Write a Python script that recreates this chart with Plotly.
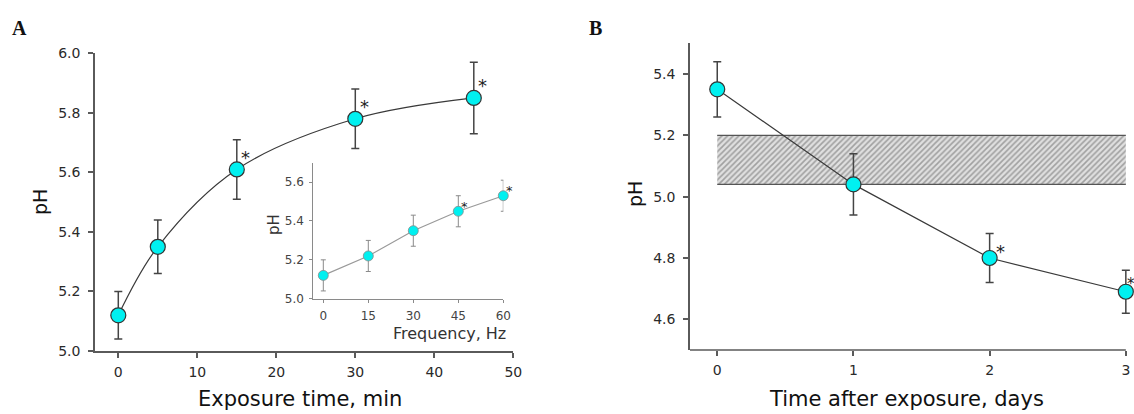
import plotly.graph_objects as go

W, H = 1134, 414

# ---- Data ----
# Panel A: pH vs exposure time
a_time = [0, 5, 15, 30, 45]
a_ph = [5.12, 5.35, 5.61, 5.78, 5.85]
a_err_plus = [0.08, 0.09, 0.10, 0.10, 0.12]
a_err_minus = [0.08, 0.09, 0.10, 0.10, 0.12]
a_sig = [False, False, True, True, True]

# Inset: pH vs frequency
i_freq = [0, 15, 30, 45, 60]
i_ph = [5.12, 5.22, 5.35, 5.45, 5.53]
i_err = [0.08, 0.08, 0.08, 0.08, 0.08]
i_sig = [False, False, False, True, True]

# Panel B: pH vs days after exposure
b_days = [0, 1, 2, 3]
b_ph = [5.35, 5.04, 4.80, 4.69]
b_err = [0.09, 0.10, 0.08, 0.07]
b_sig = [False, False, True, True]

# Normal range band in B
band_x = [0, 3]
band_low = 5.04
band_high = 5.20

# ---- Styling ----
FONT = "DejaVu Sans"
AX = "#5a5a5a"
TXT = "#2a2a2a"
CYAN = "#00f0f0"
LINE = "#3a3a3a"

def px_x(p):
    return p / W

def px_y(p):
    return 1 - p / H

fig = go.Figure()

# Panel A
fig.add_trace(go.Scatter(
    x=a_time, y=a_ph, mode="lines+markers",
    line=dict(color=LINE, width=1.2, shape="spline", smoothing=1.0),
    marker=dict(size=15, color=CYAN, line=dict(color="#333", width=1.2)),
    error_y=dict(type="data", array=a_err_plus, arrayminus=a_err_minus,
                 color="#444", thickness=1.5, width=4),
    xaxis="x", yaxis="y", showlegend=False, cliponaxis=False))

# Inset
fig.add_trace(go.Scatter(
    x=i_freq, y=i_ph, mode="lines+markers",
    line=dict(color="#9a9a9a", width=1.2),
    marker=dict(size=10, color=CYAN, line=dict(color="#8a8a8a", width=0.8)),
    error_y=dict(type="data", array=i_err, color="#8a8a8a", thickness=1, width=2.5),
    xaxis="x3", yaxis="y3", showlegend=False, cliponaxis=False))

# Panel B band (hatched)
fig.add_trace(go.Scatter(
    x=[band_x[0], band_x[1], band_x[1], band_x[0], band_x[0]],
    y=[band_low, band_low, band_high, band_high, band_low],
    mode="lines", fill="toself", line=dict(width=0, color="rgba(0,0,0,0)"),
    fillcolor="rgba(0,0,0,0)",
    fillpattern=dict(shape="/", fgcolor="#606060", bgcolor="#e0e0e0", size=4, solidity=0.4),
    xaxis="x2", yaxis="y2", showlegend=False, hoverinfo="skip"))
for yy in (band_low, band_high):
    fig.add_trace(go.Scatter(
        x=band_x, y=[yy, yy], mode="lines", line=dict(color="#555", width=1.3),
        xaxis="x2", yaxis="y2", showlegend=False, hoverinfo="skip"))

fig.add_trace(go.Scatter(
    x=b_days, y=b_ph, mode="lines+markers",
    line=dict(color=LINE, width=1.2),
    marker=dict(size=15, color=CYAN, line=dict(color="#333", width=1.2)),
    error_y=dict(type="data", array=b_err, color="#444", thickness=1.5, width=4),
    xaxis="x2", yaxis="y2", showlegend=False, cliponaxis=False))

tickfont = dict(family=FONT, size=14, color=TXT)
common = dict(showgrid=False, zeroline=False, showline=True, linecolor=AX, linewidth=1.5,
              ticks="outside", ticklen=5, tickcolor=AX, tickwidth=1.5, tickfont=tickfont,
              automargin=False)

fig.update_layout(
    width=W, height=H, margin=dict(l=0, r=0, t=0, b=0, pad=0, autoexpand=False),
    paper_bgcolor="white", plot_bgcolor="rgba(0,0,0,0)",
    xaxis=dict(domain=[px_x(95), px_x(513.3)], range=[-2.95, 50], tickvals=[0, 10, 20, 30, 40, 50],
               anchor="y", ticklabelstandoff=2, **common),
    yaxis=dict(domain=[px_y(351), px_y(53.3)], range=[5.0, 6.0], tickvals=[5.0, 5.2, 5.4, 5.6, 5.8, 6.0],
               tickformat=".1f", anchor="x", ticklabelstandoff=5, **common),
    xaxis2=dict(domain=[px_x(690), 1.0], range=[-0.2, 3.06], tickvals=[0, 1, 2, 3],
                anchor="y2", ticklabelstandoff=2, **{**common, "showline": False}),
    yaxis2=dict(domain=[px_y(350), px_y(43.3)], range=[4.5, 5.5], tickvals=[4.6, 4.8, 5.0, 5.2, 5.4],
                tickformat=".1f", anchor="x2", ticklabelstandoff=5, **common),
    xaxis3=dict(domain=[px_x(313.3), px_x(503.3)], range=[-10/3, 60], tickvals=[0, 15, 30, 45, 60],
                anchor="y3", showgrid=False, zeroline=False, showline=True, linecolor="#8a8a8a",
                linewidth=1, ticks="outside", ticklen=3, tickcolor="#8a8a8a", automargin=False,
                tickfont=dict(family=FONT, size=12, color="#444"), ticklabelstandoff=3),
    yaxis3=dict(domain=[px_y(298.7), px_y(162.7)], range=[5.0, 5.7], tickvals=[5.0, 5.2, 5.4, 5.6],
                tickformat=".1f", anchor="x3", showgrid=False, zeroline=False, showline=True,
                linecolor="#8a8a8a", linewidth=1, ticks="outside", ticklen=3, tickcolor="#8a8a8a",
                automargin=False,
                tickfont=dict(family=FONT, size=12, color="#444"), ticklabelstandoff=3),
)

# B x-axis line ending at x=3
fig.add_shape(type="line", xref="x2", yref="paper", x0=-0.2, x1=3, y0=px_y(350), y1=px_y(350),
              line=dict(color=AX, width=1.5))

ann = []
# panel letters
ann.append(dict(text="<b>A</b>", x=px_x(10), y=px_y(28), xref="paper", yref="paper",
                xanchor="left", yanchor="middle", showarrow=False,
                font=dict(family="Liberation Serif", size=20, color="#111")))
ann.append(dict(text="<b>B</b>", x=px_x(587), y=px_y(28), xref="paper", yref="paper",
                xanchor="left", yanchor="middle", showarrow=False,
                font=dict(family="Liberation Serif", size=20, color="#111")))
# axis titles
ann.append(dict(text="Exposure time, min", x=px_x(300), y=px_y(399), xref="paper", yref="paper",
                xanchor="center", yanchor="middle", showarrow=False,
                font=dict(family=FONT, size=21, color="#111")))
ann.append(dict(text="pH", x=px_x(40), y=px_y(202), xref="paper", yref="paper", textangle=-90,
                xanchor="center", yanchor="middle", showarrow=False,
                font=dict(family=FONT, size=19, color="#111")))
ann.append(dict(text="Time after exposure, days", x=px_x(906), y=px_y(399), xref="paper", yref="paper",
                xanchor="center", yanchor="middle", showarrow=False,
                font=dict(family=FONT, size=21, color="#111")))
ann.append(dict(text="pH", x=px_x(635), y=px_y(194), xref="paper", yref="paper", textangle=-90,
                xanchor="center", yanchor="middle", showarrow=False,
                font=dict(family=FONT, size=19, color="#111")))
ann.append(dict(text="Frequency, Hz", x=px_x(449), y=px_y(333), xref="paper", yref="paper",
                xanchor="center", yanchor="middle", showarrow=False,
                font=dict(family=FONT, size=16, color="#333")))
ann.append(dict(text="pH", x=px_x(274), y=px_y(225), xref="paper", yref="paper", textangle=-90,
                xanchor="center", yanchor="middle", showarrow=False,
                font=dict(family=FONT, size=15, color="#333")))

# significance asterisks
for xv, yv, s in zip(a_time, a_ph, a_sig):
    if s:
        ann.append(dict(text="*", x=xv, y=yv, xref="x", yref="y", showarrow=False,
                        xshift=9, yshift=12, font=dict(family=FONT, size=18, color="#222")))
for xv, yv, s in zip(i_freq, i_ph, i_sig):
    if s:
        ann.append(dict(text="*", x=xv, y=yv, xref="x3", yref="y3", showarrow=False,
                        xshift=6, yshift=5, font=dict(family=FONT, size=13, color="#222")))
for k, (xv, yv, s) in enumerate(zip(b_days, b_ph, b_sig)):
    if s:
        last = k == len(b_days) - 1
        if last:
            # keep the asterisk at the right edge fully inside the picture
            ann.append(dict(text="*", x=xv, y=yv, xref="x2", yref="y2", showarrow=False,
                            xanchor="left", xshift=0.5, yshift=8, borderpad=0,
                            font=dict(family=FONT, size=15, color="#222")))
        else:
            ann.append(dict(text="*", x=xv, y=yv, xref="x2", yref="y2", showarrow=False,
                            xshift=11, yshift=6, font=dict(family=FONT, size=18, color="#222")))
fig.update_layout(annotations=ann)

fig.write_html("out.html")
